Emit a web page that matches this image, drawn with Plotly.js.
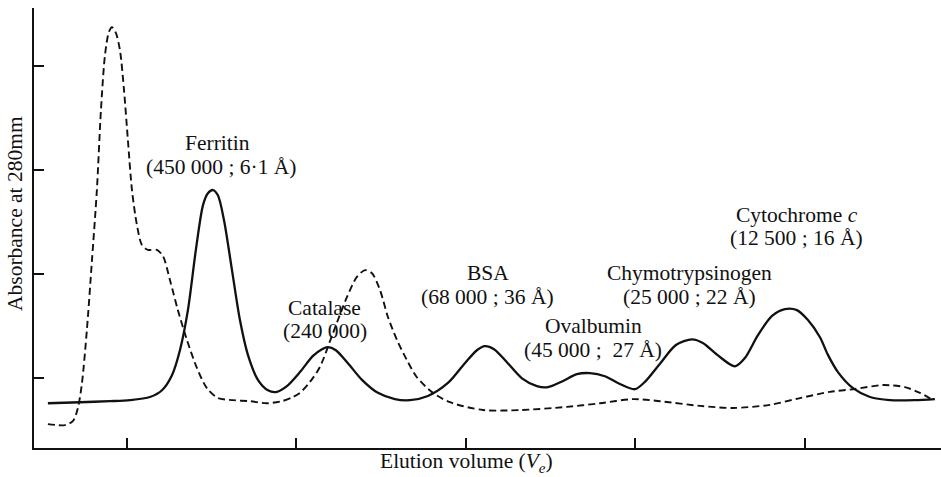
<!DOCTYPE html>
<html>
<head>
<meta charset="utf-8">
<script src="https://cdn.plot.ly/plotly-3.0.1.min.js"></script>
<style>html,body{margin:0;padding:0;background:#fff;}#chart{width:941px;height:477px;}</style>
</head>
<body>
<div id="chart"></div>
<script>
// Elution profile: solid = calibration proteins, dashed = sample
const solidX = [5.36,7.25,9.02,10.21,11.38,12.09,12.68,13.15,13.62,14.09,14.51,14.80,15.10,15.39,15.75,16.22,16.69,17.16,17.75,18.34,18.87,19.46,20.23,21.00,21.53,21.88,22.35,23.06,23.89,24.83,25.83,26.72,27.78,28.96,29.96,30.67,31.14,31.68,32.44,33.33,34.21,34.86,35.69,36.57,37.34,38.22,39.11,39.99,40.58,41.47,42.41,43.36,44.00,44.85,45.89,46.48,47.25,48.08,48.84,49.55,50.20,50.91,51.38,51.97,52.86,53.86,55.04,56.51,57.69];
const solidY = [0.151,0.153,0.155,0.157,0.163,0.176,0.205,0.253,0.330,0.446,0.532,0.555,0.561,0.551,0.503,0.407,0.311,0.244,0.196,0.176,0.173,0.184,0.211,0.242,0.255,0.259,0.253,0.228,0.196,0.171,0.159,0.157,0.165,0.190,0.228,0.253,0.261,0.255,0.230,0.199,0.184,0.182,0.193,0.207,0.209,0.203,0.188,0.178,0.192,0.227,0.263,0.274,0.267,0.244,0.222,0.238,0.282,0.319,0.332,0.330,0.311,0.278,0.244,0.211,0.180,0.163,0.157,0.157,0.159];
const dashX = [5.36,6.37,6.84,7.13,7.37,7.66,7.96,8.25,8.49,8.73,8.96,9.14,9.37,9.61,9.85,10.08,10.32,10.61,10.91,11.26,11.79,12.15,12.56,13.03,13.56,14.15,14.74,15.39,16.28,17.28,18.28,19.17,19.82,20.23,20.82,21.41,22.18,23.00,23.59,24.07,24.48,24.95,25.42,25.95,26.54,27.13,28.08,29.08,31.03,33.21,35.98,37.93,39.88,41.47,43.83,45.78,47.96,49.73,51.50,52.86,54.63,55.92,56.81,57.57];
const dashY = [0.111,0.109,0.117,0.142,0.190,0.292,0.426,0.561,0.715,0.821,0.865,0.874,0.863,0.830,0.753,0.657,0.561,0.494,0.455,0.446,0.446,0.434,0.388,0.330,0.273,0.219,0.180,0.161,0.157,0.155,0.151,0.155,0.163,0.171,0.192,0.221,0.286,0.355,0.394,0.407,0.401,0.369,0.317,0.273,0.234,0.201,0.171,0.153,0.138,0.138,0.144,0.151,0.159,0.155,0.146,0.142,0.148,0.161,0.173,0.178,0.186,0.182,0.171,0.157];
const xTicks = [10,20,30,40,50];
const yTicks = [0.2,0.4,0.6,0.8];
const proteinNames = ["Ferritin","Catalase","BSA","Ovalbumin","Chymotrypsinogen","Cytochrome <i>c</i>"];
const proteinInfo = ["(450 000 ; 6·1 Å)","(240 000)","(68 000 ; 36 Å)","(45 000 ;  27 Å)","(25 000 ; 22 Å)","(12 500 ; 16 Å)"];

// label placement (data coords)
const namePos = [[15.39,0.651],[21.65,0.334],[31.32,0.401],[37.52,0.299],[43.24,0.401],[49.55,0.513]];
const infoPos = [[15.57,0.605],[21.70,0.290],[31.32,0.355],[37.52,0.253],[43.24,0.355],[49.55,0.469]];

const FONT = "Liberation Serif, Times New Roman, serif";
const FS = 21.5;
const annotations = [];
proteinNames.forEach((t,i)=>{
  annotations.push({x:namePos[i][0],y:namePos[i][1],xref:'x',yref:'y',text:t,showarrow:false,font:{family:FONT,size:FS,color:'#111'},xanchor:'center',yanchor:'middle'});
  annotations.push({x:infoPos[i][0],y:infoPos[i][1],xref:'x',yref:'y',text:proteinInfo[i],showarrow:false,font:{family:FONT,size:FS,color:'#111'},xanchor:'center',yanchor:'middle'});
});
annotations.push({x:-0.021,y:0.534,xref:'paper',yref:'paper',text:'Absorbance at 280mm',textangle:-90,showarrow:false,font:{family:FONT,size:FS,color:'#111'},xanchor:'center',yanchor:'middle'});
annotations.push({x:0.477,y:-0.032,xref:'paper',yref:'paper',text:'Elution volume (<i>V<sub>e</sub></i>)',showarrow:false,font:{family:FONT,size:FS,color:'#111'},xanchor:'center',yanchor:'middle'});

const traces = [
  {x:solidX,y:solidY,mode:'lines',line:{color:'#111',width:2.3,shape:'spline',smoothing:0.8},hoverinfo:'skip'},
  {x:dashX,y:dashY,mode:'lines',line:{color:'#111',width:1.9,dash:'7px,4px',shape:'spline',smoothing:0.8},hoverinfo:'skip'}
];
const layout = {
  width:941,height:477,
  margin:{l:34,r:0,t:8,b:29},
  paper_bgcolor:'#fff',plot_bgcolor:'#fff',
  showlegend:false,
  xaxis:{range:[4.54,58.05],showline:true,linecolor:'#111',linewidth:2,ticks:'inside',ticklen:10,tickwidth:2,tickcolor:'#111',tickvals:xTicks,showticklabels:false,showgrid:false,zeroline:false},
  yaxis:{range:[0.065,0.911],showline:true,linecolor:'#111',linewidth:2,ticks:'inside',ticklen:10,tickwidth:2,tickcolor:'#111',tickvals:yTicks,showticklabels:false,showgrid:false,zeroline:false},
  annotations:annotations
};
Plotly.newPlot('chart',traces,layout,{staticPlot:true,displayModeBar:false});
</script>
</body>
</html>
